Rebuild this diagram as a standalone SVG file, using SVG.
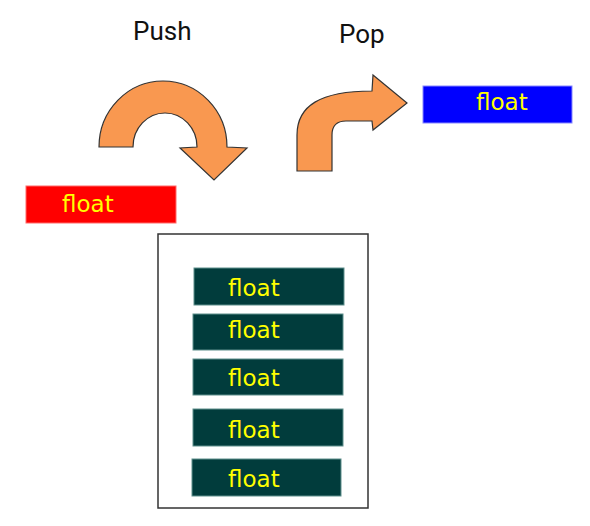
<svg xmlns="http://www.w3.org/2000/svg" width="590" height="526" viewBox="0 0 590 526">
<style>
.lbl{font-family:"DejaVu Sans","Liberation Sans",sans-serif;font-size:23px;fill:#ffff00}
.title{font-family:Roboto,"Liberation Sans",sans-serif;font-size:26px;fill:#111}
.item{fill:#013c3c;stroke:#5f8f8c;stroke-width:1}
.arrow{fill:#f99850;stroke:#333;stroke-width:1.2;stroke-linejoin:miter}
</style>
<rect width="590" height="526" fill="#fff"/>
<g id="titles">
<text class="title" x="133" y="40">Push</text>
<text class="title" x="339" y="43">Pop</text>
</g>
<g id="connectors">
<path id="push-arrow" class="arrow" d="M99,147 A64,66 0 0 1 227,147 L247,148 L214,180 L180,148 L197,147 A32,34 0 0 0 133,147 Z"/>
<path id="pop-arrow" class="arrow" d="M297,171 L297,135 C297,106 320,91 372,91 L373,75 L407,103 L373,130 L372,121 L346,121 C337,121 332,126 332,135 L332,171 Z"/>
</g>
<g id="push-item">
<rect x="26" y="186" width="150" height="37" fill="#ff0000" stroke="#ff6a6a" stroke-width="1"/>
<text class="lbl" x="62" y="212">float</text>
</g>
<g id="pop-item">
<rect x="423" y="86" width="149" height="37" fill="#0000ff" stroke="#8888ff" stroke-width="1"/>
<text class="lbl" x="476" y="110">float</text>
</g>
<g id="stack">
<rect x="158" y="234" width="210" height="274" fill="#fff" stroke="#333" stroke-width="1.5"/>
</g>
<g id="item1">
<rect class="item" x="194" y="268" width="150" height="37"/>
<text class="lbl" x="228" y="296">float</text>
</g>
<g id="item2">
<rect class="item" x="193" y="314" width="150" height="36"/>
<text class="lbl" x="228" y="338">float</text>
</g>
<g id="item3">
<rect class="item" x="193" y="359" width="150" height="36"/>
<text class="lbl" x="228" y="386">float</text>
</g>
<g id="item4">
<rect class="item" x="193" y="409" width="150" height="37"/>
<text class="lbl" x="228" y="438">float</text>
</g>
<g id="item5">
<rect class="item" x="192" y="459" width="149" height="37"/>
<text class="lbl" x="228" y="487">float</text>
</g>
</svg>
